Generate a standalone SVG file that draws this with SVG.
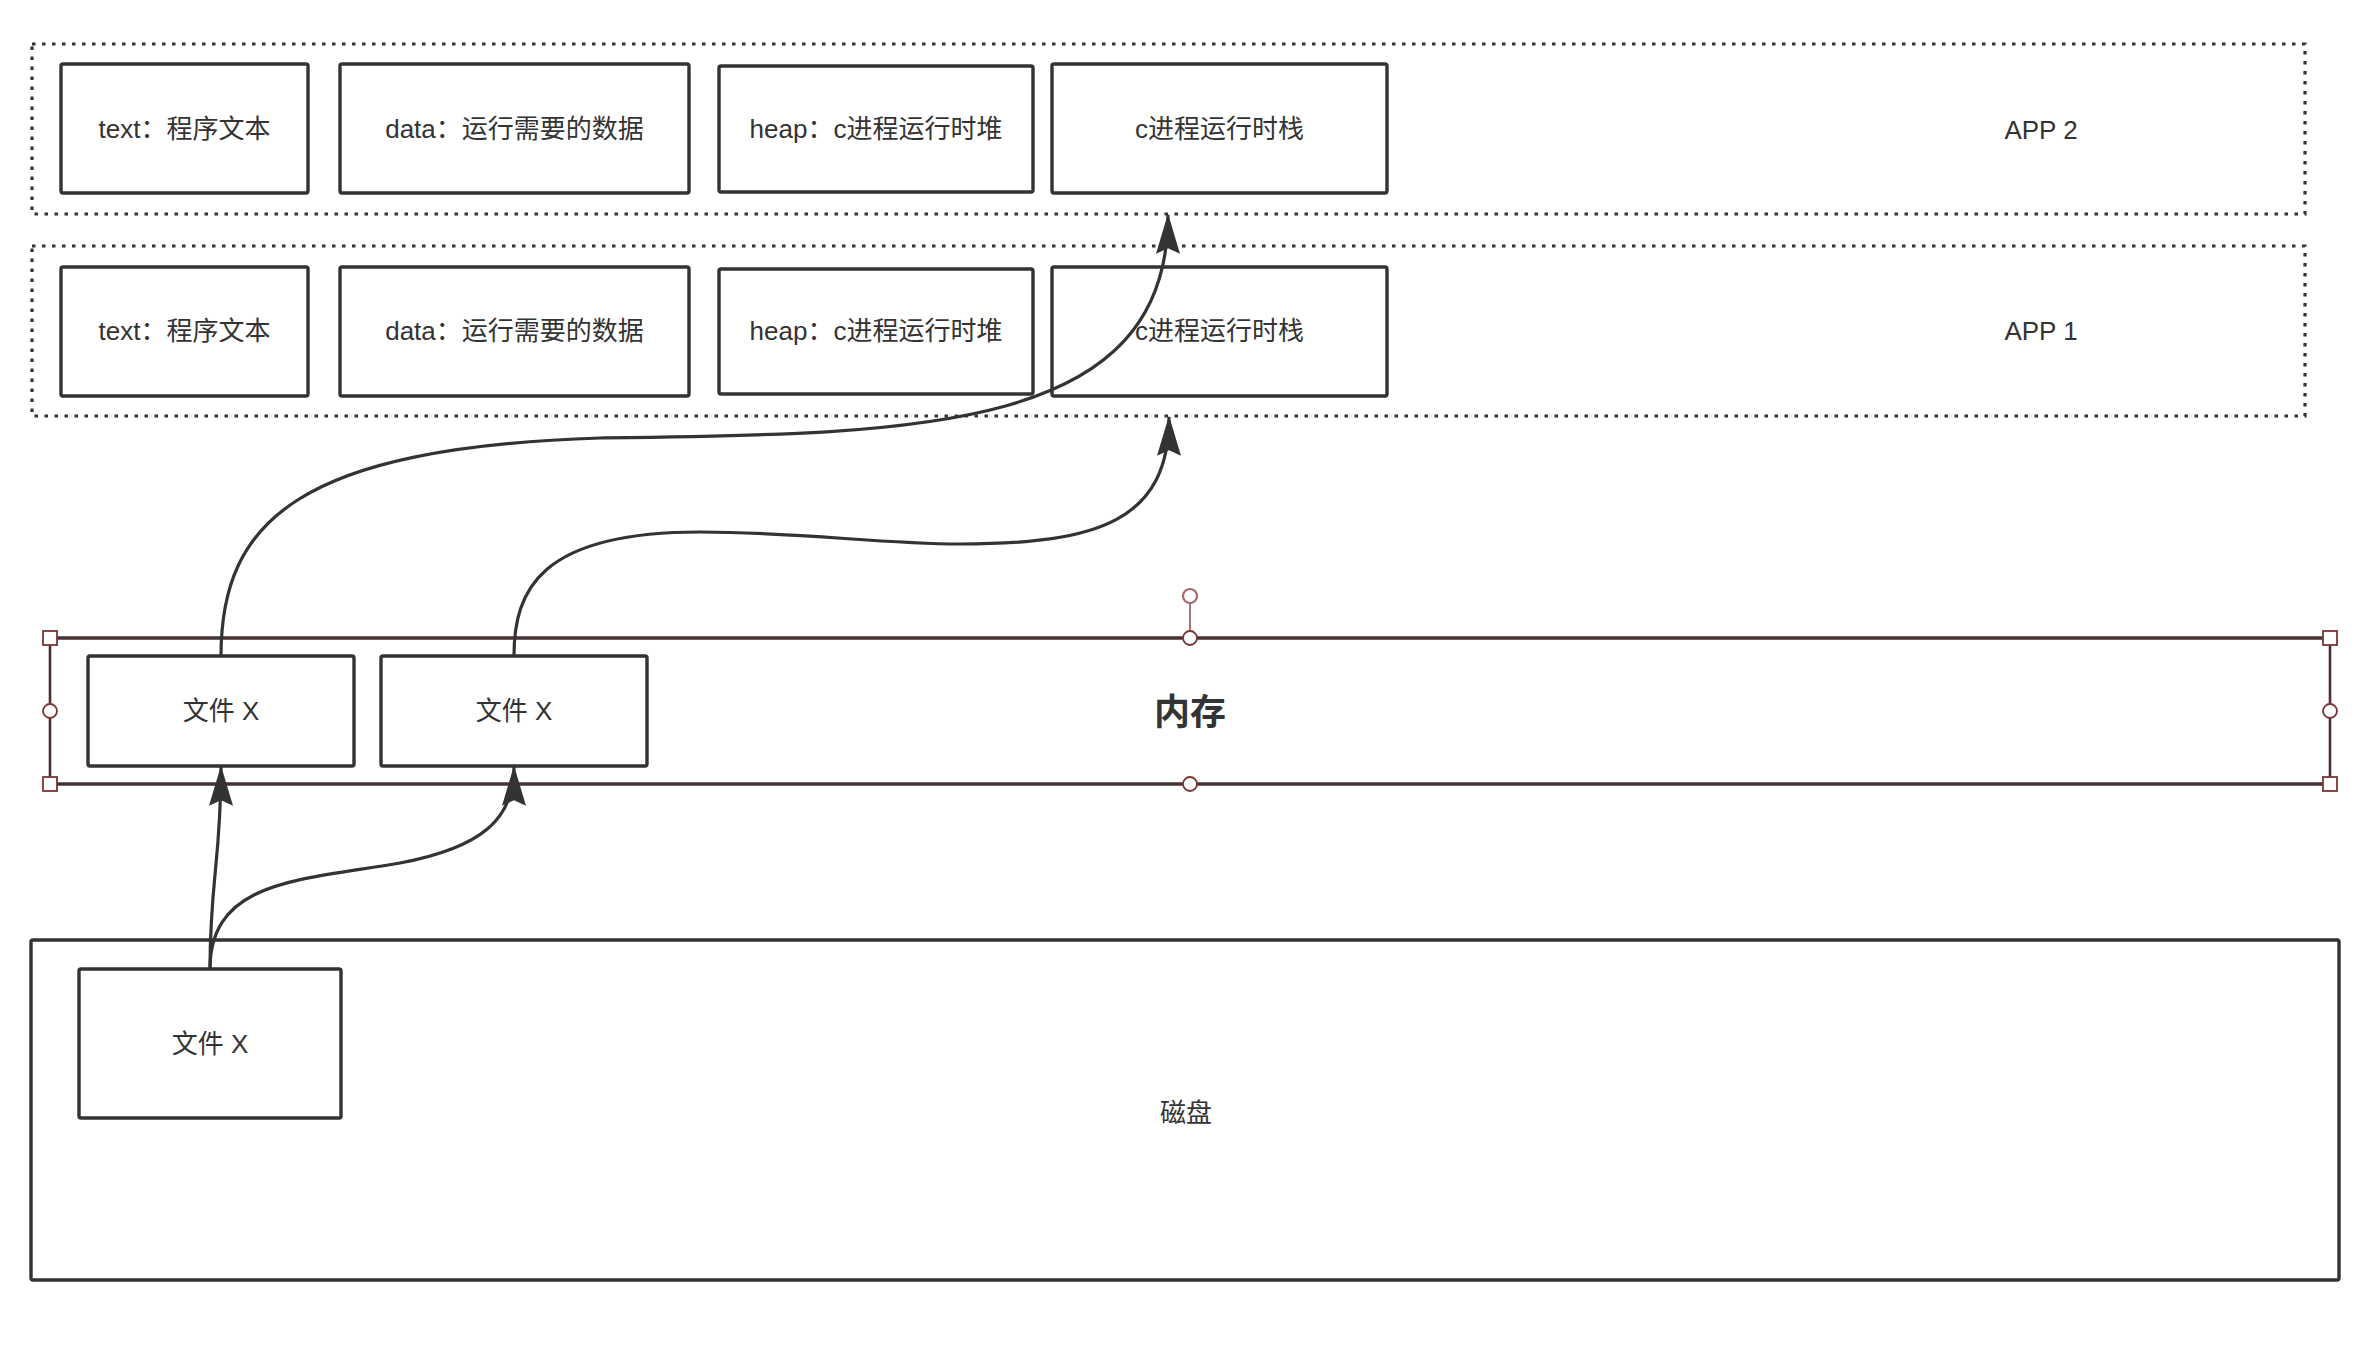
<svg xmlns="http://www.w3.org/2000/svg" width="2362" height="1358" viewBox="0 0 2362 1358">
<style>
.bg{fill:#ffffff}
.cont{fill:none;stroke:#333333;stroke-width:3.2;stroke-dasharray:3.5 6.5}
.box{fill:#ffffff;stroke:#333333;stroke-width:3.4}
.lbl{font-family:"Liberation Sans","Noto Sans CJK SC",sans-serif;font-size:26px;fill:#333333;text-anchor:middle;dominant-baseline:central}
.big{font-size:36px;font-weight:bold}
.mem{stroke:#453232;stroke-width:3.4;fill:none}
.memside{stroke:#4a3030;stroke-width:2.6;fill:none}
.hdl{fill:#ffffff;stroke:#7a3535;stroke-width:1.8}
.rot{fill:#ffffff;stroke:#a86a6a;stroke-width:2.2}
.edge{fill:none;stroke:#333333;stroke-width:3.2}
</style>
<defs>
<marker id="arr" markerUnits="userSpaceOnUse" markerWidth="40" markerHeight="40" viewBox="0 0 30 18" refX="29" refY="9" orient="auto">
<path d="M0,0 L30,9 L0,18 L4,9 Z" fill="#333333"/>
</marker>
</defs>
<rect class="bg" x="0" y="0" width="2362" height="1358"/>

<g id="app2">
<rect class="cont" x="32" y="44" width="2273" height="170"/>
<text class="lbl" x="2041" y="130">APP 2</text>
</g>
<g id="app2-text"><rect class="box" x="61" y="64" width="247" height="129" rx="2"/><text class="lbl" x="184.5" y="129">text：程序文本</text></g>
<g id="app2-data"><rect class="box" x="340" y="64" width="349" height="129" rx="2"/><text class="lbl" x="514.5" y="129">data：运行需要的数据</text></g>
<g id="app2-heap"><rect class="box" x="719" y="66" width="314" height="126" rx="2"/><text class="lbl" x="876" y="129">heap：c进程运行时堆</text></g>
<g id="app2-stack"><rect class="box" x="1052" y="64" width="335" height="129" rx="2"/><text class="lbl" x="1219.5" y="129">c进程运行时栈</text></g>

<g id="app1">
<rect class="cont" x="32" y="246" width="2273" height="170"/>
<text class="lbl" x="2041" y="331">APP 1</text>
</g>
<g id="app1-text"><rect class="box" x="61" y="267" width="247" height="129" rx="2"/><text class="lbl" x="184.5" y="331">text：程序文本</text></g>
<g id="app1-data"><rect class="box" x="340" y="267" width="349" height="129" rx="2"/><text class="lbl" x="514.5" y="331">data：运行需要的数据</text></g>
<g id="app1-heap"><rect class="box" x="719" y="269" width="314" height="125" rx="2"/><text class="lbl" x="876" y="331">heap：c进程运行时堆</text></g>
<g id="app1-stack"><rect class="box" x="1052" y="267" width="335" height="129" rx="2"/><text class="lbl" x="1219.5" y="331">c进程运行时栈</text></g>

<g id="memory">
<line class="mem" x1="50" y1="638" x2="2330" y2="638"/>
<line class="mem" x1="50" y1="784" x2="2330" y2="784"/>
<line class="memside" x1="50" y1="638" x2="50" y2="784"/>
<line class="memside" x1="2330" y1="638" x2="2330" y2="784"/>
<text class="lbl big" x="1190" y="712">内存</text>
<line x1="1190" y1="603" x2="1190" y2="631" stroke="#8a4a4a" stroke-width="1.5"/>
<circle class="rot" cx="1190" cy="596" r="7"/>
<rect class="hdl" x="43" y="631" width="14" height="14"/>
<rect class="hdl" x="2323" y="631" width="14" height="14"/>
<rect class="hdl" x="43" y="777" width="14" height="14"/>
<rect class="hdl" x="2323" y="777" width="14" height="14"/>
<circle class="hdl" cx="1190" cy="638" r="7"/>
<circle class="hdl" cx="1190" cy="784" r="7"/>
<circle class="hdl" cx="50" cy="711" r="7"/>
<circle class="hdl" cx="2330" cy="711" r="7"/>
</g>
<g id="mem-file1"><rect class="box" x="88" y="656" width="266" height="110" rx="2"/><text class="lbl" x="221" y="711">文件 X</text></g>
<g id="mem-file2"><rect class="box" x="381" y="656" width="266" height="110" rx="2"/><text class="lbl" x="514" y="711">文件 X</text></g>

<g id="disk">
<rect class="box" x="31" y="940" width="2308" height="340" rx="2"/>
<text class="lbl" x="1186" y="1113">磁盘</text>
</g>
<g id="disk-file"><rect class="box" x="79" y="969" width="262" height="149" rx="2"/><text class="lbl" x="210" y="1044">文件 X</text></g>

<g id="connectors">
<path class="edge" marker-end="url(#arr)" d="M221,656 C221,520 300,448 600,438 C920,434 1168,432 1168,215"/>
<path class="edge" marker-end="url(#arr)" d="M514,656 C514,590 540,532 700,532 C800,532 880,544 960,544 C1100,544 1169,520 1169,417"/>
<path class="edge" marker-end="url(#arr)" d="M210,969 C210,880 221,860 221,767"/>
<path class="edge" marker-end="url(#arr)" d="M210,969 C210,880 300,880 400,863 C480,848 514,820 514,767"/>
</g>
</svg>
